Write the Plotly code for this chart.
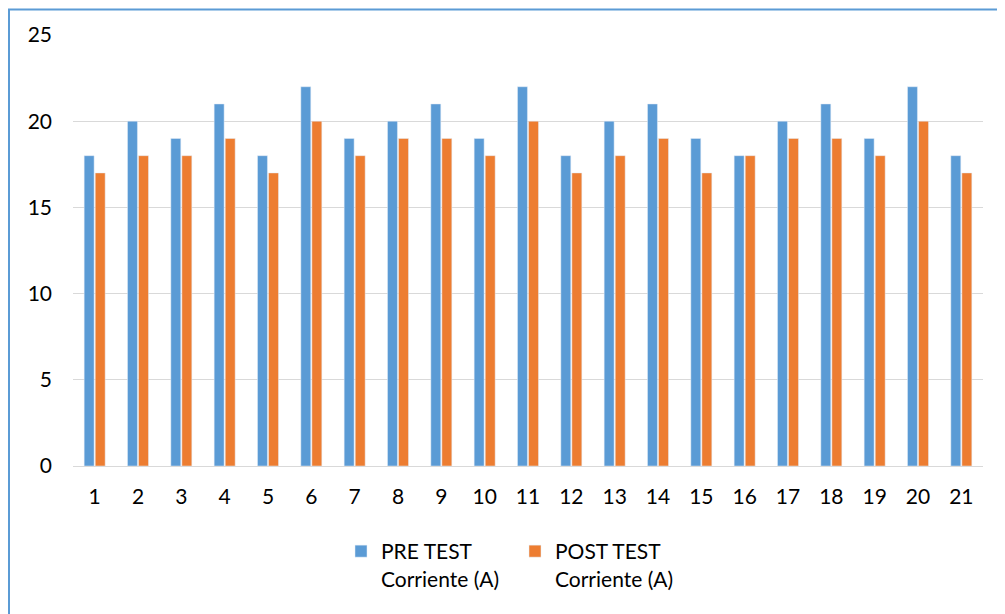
import plotly.graph_objects as go

categories = [str(i) for i in range(1, 22)]
pre_test = [18, 20, 19, 21, 18, 22, 19, 20, 21, 19, 22, 18, 20, 21, 19, 18, 20, 21, 19, 22, 18]
post_test = [17, 18, 18, 19, 17, 20, 18, 19, 19, 18, 20, 17, 18, 19, 17, 18, 19, 19, 18, 20, 17]
series_names = ["PRE TEST<br>Corriente (A)", "POST TEST<br>Corriente (A)"]
y_ticks = [0, 5, 10, 15, 20, 25]

FONT = "Lato"
FS = 21
OFF = 8  # page body margin offset

fig = go.Figure()
fig.add_trace(go.Bar(x=categories, y=pre_test, name=series_names[0], marker_color="#5B9BD5"))
fig.add_trace(go.Bar(x=categories, y=post_test, name=series_names[1], marker_color="#ED7D31"))

W, H = 1005 - OFF, 614 - OFF
ml, mt = 73 - OFF, 35 - OFF
mr = W - (983 - OFF)
mb = H - (466 - OFF)
pw = W - ml - mr
ph = H - mt - mb

def px_x(p):
    return (p - OFF - ml) / pw

def px_y(p):
    return (H - mb - (p - OFF)) / ph

fig.update_layout(
    width=W, height=H,
    margin=dict(l=ml, r=mr, t=mt, b=mb, autoexpand=False),
    paper_bgcolor="white", plot_bgcolor="white",
    barmode="group", bargap=0.49, bargroupgap=0.1,
    font=dict(family=FONT, size=FS, color="#000000"),
    showlegend=True,
    legend=dict(orientation="h", x=px_x(341), xanchor="left", y=px_y(531), yanchor="top",
                valign="top", entrywidth=129, font=dict(family=FONT, size=FS, color="#000000"),
                itemwidth=30, bgcolor="rgba(0,0,0,0)"),
    xaxis=dict(type="category", showgrid=False, showline=True, linecolor="#D9D9D9", linewidth=1,
               ticks="", ticklabelstandoff=12, tickfont=dict(family=FONT, size=FS)),
    yaxis=dict(range=[0, 25], tickvals=y_ticks, showgrid=True, gridcolor="#D9D9D9", gridwidth=1,
               zeroline=False, showline=False, ticks="", ticklabelstandoff=20,
               tickfont=dict(family=FONT, size=FS)),
    shapes=[dict(type="rect", xref="paper", yref="paper",
                 x0=px_x(9), x1=px_x(1030), y0=px_y(640), y1=px_y(9.5),
                 line=dict(color="#5B9BD5", width=2), fillcolor="rgba(0,0,0,0)", layer="above")],
)

fig.write_html("out.html")
